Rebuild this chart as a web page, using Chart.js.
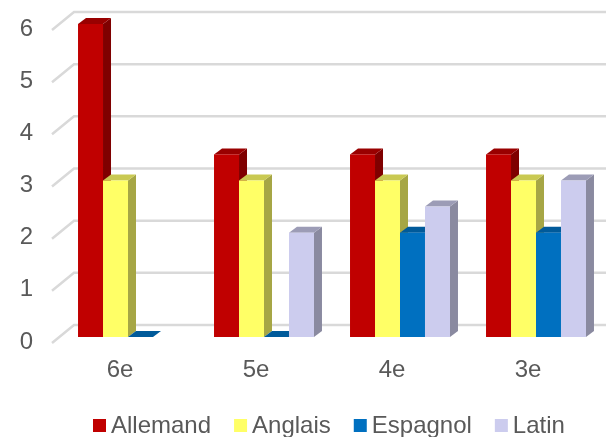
<!DOCTYPE html>
<html>
<head>
<meta charset="utf-8">
<script src="https://cdn.jsdelivr.net/npm/chart.js@4.4.0/dist/chart.umd.min.js"></script>
<style>
  html, body { margin: 0; padding: 0; background: #fff; }
  #wrap { width: 606px; height: 437px; }
</style>
</head>
<body>
<div id="wrap"><canvas id="chart" width="606" height="437"></canvas></div>
<script>
const categories = ["6e", "5e", "4e", "3e"];
const allemand = [6, 3.5, 3.5, 3.5];
const anglais = [3, 3, 3, 3];
const espagnol = [0, 0, 2, 2];
const latin = [null, 2, 2.5, 3];
const yTicks = [0, 1, 2, 3, 4, 5, 6];

// front, side, top colours for each series
const faces = [
  { front: "#C00000", side: "#7F0000", top: "#990000" },
  { front: "#FFFF66", side: "#A6A645", top: "#C9C952" },
  { front: "#0070C0", side: "#004C85", top: "#005A9A" },
  { front: "#CCCCEE", side: "#8A8AA0", top: "#9C9CB6" },
];

const DX = 8, DY = -6;        // depth offset of the 3D faces
const FONT = "24px 'Liberation Sans', Arial, sans-serif";
const TEXT = "#595959";

const bars3d = {
  id: "bars3d",
  beforeDatasetsDraw(chart) {
    const ctx = chart.ctx;
    const y = chart.scales.y;

    // walls / grid
    ctx.save();
    ctx.strokeStyle = "#D9D9D9";
    ctx.lineWidth = 2.5;
    yTicks.forEach(v => {
      const py = y.getPixelForValue(v);
      ctx.beginPath();
      ctx.moveTo(52, py + 6);
      ctx.lineTo(74, py - 12);
      ctx.lineTo(chart.width, py - 12);
      ctx.stroke();
    });
    ctx.restore();

    // bars, category by category, left to right
    const metas = chart.data.datasets.map((d, i) => chart.getDatasetMeta(i));
    categories.forEach((c, ci) => {
      metas.forEach((meta, di) => {
        const bar = meta.data[ci];
        const val = chart.data.datasets[di].data[ci];
        if (val === null || val === undefined) return;
        const f = faces[di];
        const l = bar.x - bar.width / 2, r = bar.x + bar.width / 2;
        const t = bar.y, b = bar.base;
        ctx.save();
        // side
        ctx.fillStyle = f.side;
        ctx.beginPath();
        ctx.moveTo(r, t);
        ctx.lineTo(r + DX, t + DY);
        ctx.lineTo(r + DX, b + DY);
        ctx.lineTo(r, b);
        ctx.closePath();
        ctx.fill();
        // top
        ctx.fillStyle = f.top;
        ctx.beginPath();
        ctx.moveTo(l, t);
        ctx.lineTo(r, t);
        ctx.lineTo(r + DX, t + DY);
        ctx.lineTo(l + DX, t + DY);
        ctx.closePath();
        ctx.fill();
        // front
        if (b - t > 0.5) {
          ctx.fillStyle = f.front;
          ctx.fillRect(l, t, r - l, b - t);
        }
        ctx.restore();
      });
    });

    // y tick labels
    ctx.save();
    ctx.font = FONT;
    ctx.fillStyle = TEXT;
    ctx.textAlign = "right";
    ctx.textBaseline = "middle";
    yTicks.forEach(v => {
      ctx.fillText(String(v), 33, y.getPixelForValue(v) + 5);
    });
    // x category labels
    ctx.textAlign = "center";
    ctx.textBaseline = "alphabetic";
    categories.forEach((c, ci) => {
      ctx.fillText(c, chart.scales.x.getPixelForValue(ci) - 8, 377);
    });

    // legend
    const items = chart.data.datasets.map((d, i) => ({ label: d.label, color: faces[i].front }));
    let x = 93;
    ctx.textAlign = "left";
    items.forEach(it => {
      ctx.fillStyle = it.color;
      ctx.fillRect(x, 419, 13, 13);
      ctx.fillStyle = TEXT;
      ctx.fillText(it.label, x + 18, 433);
      x += 18 + ctx.measureText(it.label).width + 23;
    });
    ctx.restore();
    return false;
  }
};

new Chart(document.getElementById("chart").getContext("2d"), {
  type: "bar",
  data: {
    labels: categories,
    datasets: [
      { label: "Allemand", data: allemand, backgroundColor: faces[0].front },
      { label: "Anglais", data: anglais, backgroundColor: faces[1].front },
      { label: "Espagnol", data: espagnol, backgroundColor: faces[2].front },
      { label: "Latin", data: latin, backgroundColor: faces[3].front },
    ],
  },
  options: {
    responsive: false,
    animation: false,
    layout: { padding: { left: 60, right: 2, top: 24, bottom: 100 } },
    datasets: { bar: { categoryPercentage: 0.735, barPercentage: 1 } },
    plugins: { legend: { display: false }, tooltip: { enabled: false } },
    scales: {
      x: { display: false },
      y: { display: false, min: 0, max: 6 },
    },
  },
  plugins: [bars3d],
});
</script>
</body>
</html>
